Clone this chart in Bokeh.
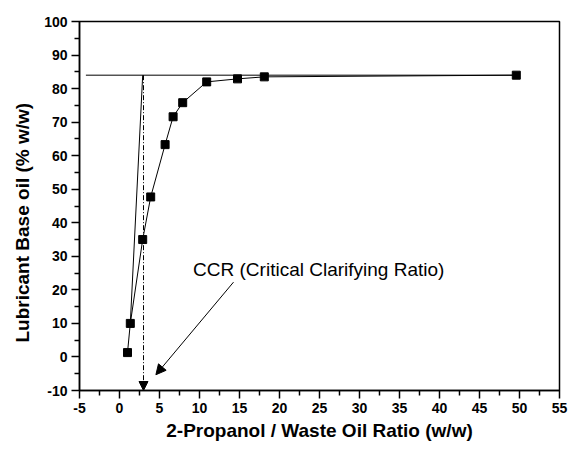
from bokeh.plotting import figure
from bokeh.models import FixedTicker, Title, Arrow, NormalHead
from bokeh.core.properties import value
from bokeh.embed import file_html
from bokeh.resources import INLINE

# data
ratio = [1.0, 1.35, 2.9, 3.9, 5.7, 6.7, 7.9, 10.9, 14.75, 18.1, 49.6]
base_oil = [1.3, 10.0, 35.0, 47.7, 63.3, 71.6, 75.8, 82.0, 82.9, 83.5, 84.0]

plateau_x = [-4.2, 49.6]
plateau_y = [84.0, 84.0]
tangent_x = [1.35, 2.9]
tangent_y = [10.0, 84.0]
ccr_x = 3.0
ccr_top = 84.0
ccr_bottom = -10.0
note_text = "CCR (Critical Clarifying Ratio)"
note_x = [9.2]
note_y = [26.2]
pointer_start = (14.25, 22.3)
pointer_end = (4.55, -5.3)

x_ticks = list(range(-5, 56, 5))
x_minor = [t + 2.5 for t in range(-5, 55, 5)]
y_ticks = list(range(-10, 101, 10))
y_minor = [t + 5 for t in range(-10, 100, 10)]

FONT = "Liberation Sans"

p = figure(width=571, height=449, x_range=(-5, 55), y_range=(-10, 100),
           output_backend="svg", toolbar_location=None,
           min_border_left=79, min_border_right=12, min_border_top=21, min_border_bottom=59)
p.background_fill_color = "white"
p.border_fill_color = "white"
p.outline_line_color = "black"
p.outline_line_width = 1.5
p.xgrid.visible = False
p.ygrid.visible = False

p.xaxis.ticker = FixedTicker(ticks=x_ticks, minor_ticks=x_minor)
p.yaxis.ticker = FixedTicker(ticks=y_ticks, minor_ticks=y_minor)
p.xaxis.major_label_overrides = {-5: "-5"}
p.yaxis.major_label_overrides = {-10: "-10"}

for ax in [p.xaxis[0], p.yaxis[0]]:
    ax.axis_line_width = 1.5
    ax.axis_line_color = "black"
    ax.major_tick_line_color = "black"
    ax.minor_tick_line_color = "black"
    ax.major_tick_line_width = 1.5
    ax.minor_tick_line_width = 1.5
    ax.major_tick_in = 0
    ax.major_tick_out = 8
    ax.minor_tick_in = 0
    ax.minor_tick_out = 5
    ax.major_label_text_font = FONT
    ax.major_label_text_font_style = "bold"
    ax.major_label_text_font_size = "14px"
    ax.major_label_text_color = "black"
    ax.major_label_standoff = 4

p.xaxis[0].axis_label = "2-Propanol / Waste Oil Ratio (w/w)"
p.xaxis[0].axis_label_text_font = FONT
p.xaxis[0].axis_label_text_font_style = "bold"
p.xaxis[0].axis_label_text_font_size = "19px"
p.xaxis[0].axis_label_text_color = "black"
p.xaxis[0].axis_label_standoff = 4

p.add_layout(Title(text="Lubricant Base oil (% w/w)", align="left", offset=48,
                   vertical_align="bottom", standoff=18,
                   text_font=FONT, text_font_style="bold", text_font_size="19px",
                   text_color="black"), "left")

# plateau and tangent lines
p.line(plateau_x, plateau_y, line_color="black", line_width=1)
p.line(tangent_x, tangent_y, line_color="black", line_width=1)

# data
p.line(ratio, base_oil, line_color="black", line_width=1)
p.scatter(ratio, base_oil, marker="square", size=8, fill_color="black", line_color="black")

# CCR dash-dot arrow
p.add_layout(Arrow(end=NormalHead(size=9, fill_color="black", line_color="black", line_width=1),
                   x_start=ccr_x, y_start=ccr_top, x_end=ccr_x, y_end=ccr_bottom,
                   line_color="black", line_width=1, line_dash="5 2 1 2"))

# annotation
p.text(note_x, note_y, text=[note_text], text_font=value(FONT), text_font_size="19px",
       text_align="left", text_baseline="alphabetic", text_color="black")
p.add_layout(Arrow(end=NormalHead(size=10, fill_color="black", line_color="black", line_width=1),
                   x_start=pointer_start[0], y_start=pointer_start[1],
                   x_end=pointer_end[0], y_end=pointer_end[1],
                   line_color="black", line_width=1))

open("out.html", "w").write(file_html(p, INLINE))
